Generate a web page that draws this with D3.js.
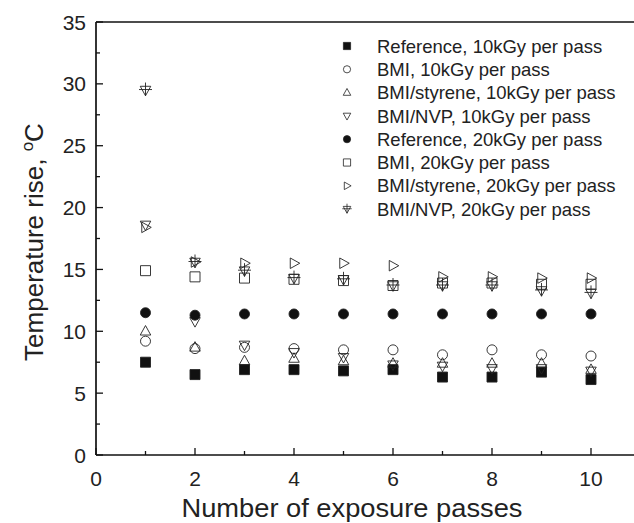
<!DOCTYPE html>
<html>
<head>
<meta charset="utf-8">
<script src="https://cdn.jsdelivr.net/npm/d3@7"></script>
<style>
  body { margin: 0; background: #fff; }
  svg { display: block; font-family: "Liberation Sans", Arial, sans-serif; }
</style>
</head>
<body>
<svg id="chart" width="634" height="523"></svg>
<script>
// data
const passes = [1, 2, 3, 4, 5, 6, 7, 8, 9, 10];
const ref10 = [7.5, 6.5, 6.9, 6.9, 6.8, 6.9, 6.3, 6.3, 6.7, 6.1];
const bmi10 = [9.2, 8.6, 8.7, 8.6, 8.5, 8.5, 8.1, 8.5, 8.1, 8.0];
const sty10 = [10.0, 8.7, 7.6, 7.8, 7.6, 7.4, 7.4, 7.4, 7.4, 6.9];
const nvp10 = [18.6, 10.8, 8.9, 8.3, 7.9, 7.3, 7.2, 7.0, 7.0, 6.8];
const ref20 = [11.5, 11.3, 11.4, 11.4, 11.4, 11.4, 11.4, 11.4, 11.4, 11.4];
const bmi20 = [14.9, 14.4, 14.3, 14.2, 14.1, 13.7, 13.9, 13.9, 13.8, 13.8];
const sty20 = [18.4, 15.6, 15.5, 15.5, 15.5, 15.3, 14.4, 14.4, 14.3, 14.3];
const nvp20 = [29.5, 15.6, 14.9, 14.3, 14.2, 13.7, 13.7, 13.7, 13.3, 13.1];

const seriesNames = [
  "Reference, 10kGy per pass",
  "BMI, 10kGy per pass",
  "BMI/styrene, 10kGy per pass",
  "BMI/NVP, 10kGy per pass",
  "Reference, 20kGy per pass",
  "BMI, 20kGy per pass",
  "BMI/styrene, 20kGy per pass",
  "BMI/NVP, 20kGy per pass"
];
const seriesValues = [ref10, bmi10, sty10, nvp10, ref20, bmi20, sty20, nvp20];
const seriesShapes = ["squareFill", "circle", "triUp", "triDown", "circleFill", "square", "triRight", "triDownCross"];

const xTicks = [0, 2, 4, 6, 8, 10];
const yTicks = [0, 5, 10, 15, 20, 25, 30, 35];

const svg = d3.select("#chart");
const padL = 96, padT = 22, padB = 455;
const x = d3.scaleLinear().domain([0, 11]).range([padL, padL + 11 * 49.5]);
const y = d3.scaleLinear().domain([0, 35]).range([padB, padT]);

// marker path for a shape with half-size s
function shapePath(shape, s) {
  const p = d3.path();
  switch (shape) {
    case "squareFill":
    case "square":
      p.rect(-s, -s, 2 * s, 2 * s); break;
    case "circle":
    case "circleFill":
      p.arc(0, 0, s, 0, 2 * Math.PI); break;
    case "triUp":
      p.moveTo(0, -s * 1.15); p.lineTo(s * 1.05, s * 0.75); p.lineTo(-s * 1.05, s * 0.75); p.closePath(); break;
    case "triDown":
      p.moveTo(0, s * 1.15); p.lineTo(s * 1.05, -s * 0.75); p.lineTo(-s * 1.05, -s * 0.75); p.closePath(); break;
    case "triRight":
      p.moveTo(s * 1.15, 0); p.lineTo(-s * 0.75, s * 1.05); p.lineTo(-s * 0.75, -s * 1.05); p.closePath(); break;
    case "triDownCross":
      p.moveTo(0, s * 1.15); p.lineTo(s * 1.05, -s * 0.75); p.lineTo(-s * 1.05, -s * 0.75); p.closePath();
      p.moveTo(0, -s * 1.5); p.lineTo(0, s * 1.15);
      p.moveTo(-s * 1.3, -s * 0.1); p.lineTo(s * 1.3, -s * 0.1);
      break;
  }
  return p.toString();
}
const filled = s => s === "squareFill" || s === "circleFill";

// axes frame
const frame = svg.append("g").attr("stroke", "#111").attr("stroke-width", 1.7).attr("fill", "none");
frame.append("line").attr("x1", padL).attr("x2", padL).attr("y1", padT).attr("y2", padB);
frame.append("line").attr("x1", padL).attr("x2", 640).attr("y1", padB).attr("y2", padB);
frame.append("line").attr("x1", padL).attr("x2", 640).attr("y1", padT).attr("y2", padT);

// ticks pointing inward
const tickG = svg.append("g").attr("stroke", "#111").attr("stroke-width", 1.3);
d3.range(0, 35.1, 2.5).forEach(v => {
  const len = v % 5 === 0 ? 7 : 4;
  tickG.append("line").attr("x1", padL).attr("x2", padL + len).attr("y1", y(v)).attr("y2", y(v));
});
d3.range(0, 11, 1).forEach(v => {
  const len = v % 2 === 0 ? 7 : 4;
  tickG.append("line").attr("x1", x(v)).attr("x2", x(v)).attr("y1", padB).attr("y2", padB - len);
});

// tick labels
svg.append("g").selectAll("text").data(yTicks).join("text")
  .attr("x", padL - 10).attr("y", d => y(d)).attr("dy", "0.36em")
  .attr("text-anchor", "end").attr("font-size", 21).attr("fill", "#222")
  .text(d => d);
svg.append("g").selectAll("text").data(xTicks).join("text")
  .attr("x", d => x(d)).attr("y", 486)
  .attr("text-anchor", "middle").attr("font-size", 21).attr("fill", "#222")
  .text(d => d);

// axis titles
svg.append("text").attr("x", 352).attr("y", 517).attr("text-anchor", "middle")
  .attr("font-size", 25).attr("fill", "#222")
  .attr("textLength", 341).attr("lengthAdjust", "spacingAndGlyphs")
  .text("Number of exposure passes");
const yt = svg.append("text").attr("transform", "translate(43,242) rotate(-90)")
  .attr("text-anchor", "middle").attr("font-size", 26).attr("fill", "#222");
yt.append("tspan").text("Temperature rise, ");
yt.append("tspan").attr("font-size", 17).attr("dy", -10).text("o");
yt.append("tspan").attr("dy", 10).text("C");

// data markers
seriesValues.forEach((vals, i) => {
  const shape = seriesShapes[i];
  svg.append("g").selectAll("path").data(passes).join("path")
    .attr("transform", (d, j) => `translate(${x(d)},${y(vals[j])})`)
    .attr("d", shapePath(shape, 5))
    .attr("fill", filled(shape) ? "#111" : "none")
    .attr("stroke", "#222").attr("stroke-width", 0.9);
});

// legend
const leg = svg.append("g").attr("transform", "translate(347,46)");
seriesNames.forEach((name, i) => {
  const shape = seriesShapes[i];
  const g = leg.append("g").attr("transform", `translate(0,${i * 23.3})`);
  g.append("path").attr("d", shapePath(shape, 3.6))
    .attr("fill", filled(shape) ? "#111" : "none")
    .attr("stroke", "#222").attr("stroke-width", 0.8);
  g.append("text").attr("x", 30).attr("dy", "0.36em")
    .attr("font-size", 18.5).attr("fill", "#222").text(name);
});
</script>
</body>
</html>
